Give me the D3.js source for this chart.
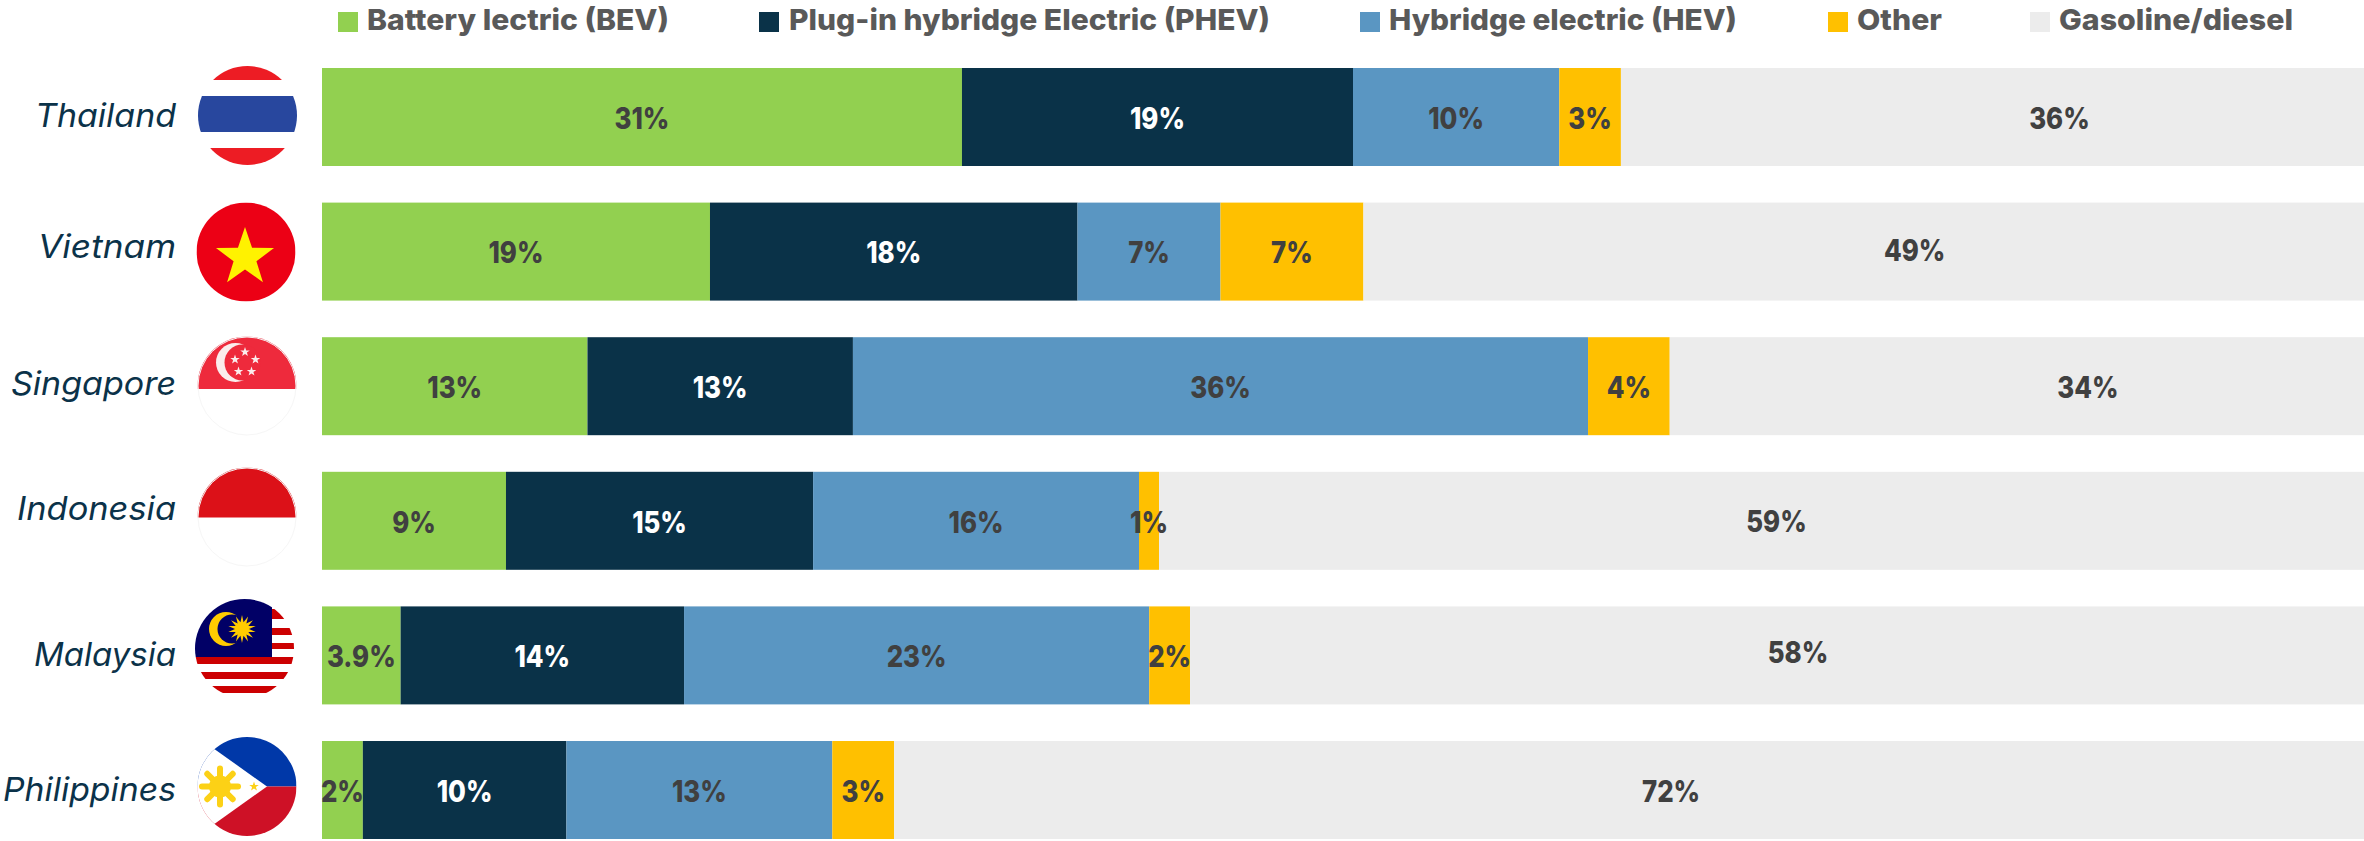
<!DOCTYPE html>
<html><head><meta charset="utf-8">
<script src="https://cdnjs.cloudflare.com/ajax/libs/d3/7.8.5/d3.min.js"></script>
<style>html,body{margin:0;padding:0;background:#fff}svg{display:block}</style>
</head><body><svg id="c" width="2364" height="841"></svg>
<script>
const countries = ["Thailand","Vietnam","Singapore","Indonesia","Malaysia","Philippines"];
const seriesNames = ["Battery lectric (BEV)","Plug-in hybridge Electric (PHEV)","Hybridge electric (HEV)","Other","Gasoline/diesel"];
const bev   = [31.34,19.0,13.0,9.01,3.85,2.0];
const phev  = [19.15,18.0,13.0,15.04,13.88,9.97];
const hev   = [10.1,7.0,36.0,15.96,22.78,13.02];
const other = [3.02,7.0,4.0,0.98,2.0,3.03];
const gas   = [36.39,49.0,34.0,59.01,57.49,71.98];
const bevLabels   = ["31%","19%","13%","9%","3.9%","2%"];
const phevLabels  = ["19%","18%","13%","15%","14%","10%"];
const hevLabels   = ["10%","7%","36%","16%","23%","13%"];
const otherLabels = ["3%","7%","4%","1%","2%","3%"];
const gasLabels   = ["36%","49%","34%","59%","58%","72%"];
const colors = ["#92D050","#0A3248","#5A96C2","#FFC000","#ECECEC"];
const labelColors = ["#404040","#FFFFFF","#404040","#404040","#404040"];

const FONT = "Inter, 'Noto Sans', sans-serif";
const svg = d3.select("#c");
const valueArrays = [bev,phev,hev,other,gas];
const labelArrays = [bevLabels,phevLabels,hevLabels,otherLabels,gasLabels];
const table = countries.map((c,i)=>{const o={country:c};seriesNames.forEach((s,k)=>o[s]=valueArrays[k][i]);return o;});
const stacked = d3.stack().keys(seriesNames)(table);
const x = d3.scaleLinear().domain([0,100]).range([322,2364]);
const y = d3.scaleBand().domain(countries).range([68,839]).paddingInner(0.272).paddingOuter(0);

// bars
stacked.forEach((layer,k)=>{
  const g = svg.append("g");
  g.selectAll("rect").data(layer).join("rect")
    .attr("x",d=>x(d[0])).attr("width",d=>x(d[1])-x(d[0]))
    .attr("y",d=>y(d.data.country)).attr("height",y.bandwidth())
    .attr("fill",colors[k]);
});
// the gasoline labels sit away from their segment centres in the reference
const gasLabelShiftX = [67,51,71,15,21,42];
const gasLabelShiftY = [0,-2,0,-1,-4,0];
stacked.forEach((layer,k)=>{
  svg.append("g").selectAll("text").data(layer).join("text")
    .attr("x",(d,i)=>(x(d[0])+x(d[1]))/2+(k===4?gasLabelShiftX[i]:0))
    .attr("y",(d,i)=>y(d.data.country)+y.bandwidth()/2+1+(k===4?gasLabelShiftY[i]:0))
    .attr("dy","0.36em").attr("text-anchor","middle")
    .attr("font-family",FONT).attr("font-weight",800).attr("font-size",30)
    .attr("fill",labelColors[k])
    .text((d,i)=>labelArrays[k][i])
    .each(function(){
      d3.select(this).attr("textLength",this.getComputedTextLength()*0.86).attr("lengthAdjust","spacingAndGlyphs");
    });
});

// country labels
const labelBaselineOffset = [10,6,9,-1,11,11];
svg.append("g").selectAll("text").data(countries).join("text")
  .attr("x",176).attr("y",(d,i)=>y(d)+y.bandwidth()/2+labelBaselineOffset[i])
  .attr("text-anchor","end").attr("font-family",FONT).attr("font-style","italic")
  .attr("font-weight",400).attr("font-size",33).attr("fill","#0B3249")
  .attr("textLength",(d,i)=>[141,138,165,159,142,173][i]).attr("lengthAdjust","spacingAndGlyphs")
  .text(d=>d);

// legend
const legendSwatchX = [338,759,1360,1828,2030];
const legendTextX = [367,789,1389,1857,2059];
const legendTextW = [302,481,348,85,234];
const lg = svg.append("g");
seriesNames.forEach((s,k)=>{
  lg.append("rect").attr("x",legendSwatchX[k]).attr("y",12).attr("width",20).attr("height",20).attr("fill",colors[k]);
  lg.append("text").attr("x",legendTextX[k]).attr("y",30)
    .attr("font-family",FONT).attr("font-weight",800).attr("font-size",29).attr("fill","#595959")
    .attr("textLength",legendTextW[k]).attr("lengthAdjust","spacingAndGlyphs").text(s);
});

// flags
const defs = svg.append("defs");
const star = (cx,cy,R,r,n,rot=-Math.PI/2)=>d3.range(n*2).map(i=>{
  const a=rot+i*Math.PI/n, q=i%2?r:R; return [cx+q*Math.cos(a),cy+q*Math.sin(a)];}).join(" ");
function flag(id,cx,cy,r){
  defs.append("clipPath").attr("id",id).append("circle").attr("cx",cx).attr("cy",cy).attr("r",r);
  const g = svg.append("g").attr("clip-path",`url(#${id})`);
  g.append("rect").attr("x",cx-r).attr("y",cy-r).attr("width",2*r).attr("height",2*r).attr("fill","#fff");
  g.band=(y0,y1,c,x0=cx-r,x1=cx+r)=>g.append("rect").attr("x",x0).attr("y",y0).attr("width",x1-x0).attr("height",y1-y0).attr("fill",c);
  return g;
}
function rim(cx,cy,r){svg.append("circle").attr("cx",cx).attr("cy",cy).attr("r",r-0.5).attr("fill","none").attr("stroke","#F6F6F6").attr("stroke-width",1);}
// Thailand
(()=>{const cx=247.5,cy=115.5,r=49.5,g=flag("th",cx,cy,r);
  g.band(cy-r,80,"#ED1C24");g.band(96,132,"#28479E");g.band(148,cy+r,"#ED1C24");})();
// Vietnam
(()=>{const cx=246,cy=252,r=49.5,g=flag("vn",cx,cy,r);
  g.band(cy-r,cy+r,"#EC0015");
  g.append("polygon").attr("points",star(245,257.5,30.5,12,5)).attr("fill","#FFF200");})();
// Singapore
(()=>{const cx=247,cy=386,r=49.5;const g=flag("sg",cx,cy,r);rim(cx,cy,r);
  g.band(cy-r,389,"#EE2A3C");
  g.append("circle").attr("cx",235.5).attr("cy",362.5).attr("r",19.5).attr("fill","#FBECEC");
  g.append("circle").attr("cx",242.5).attr("cy",362.5).attr("r",18).attr("fill","#EE2A3C");
  [[245,352],[235,359.5],[255.5,359.5],[238.5,371.5],[251.5,371.5]].forEach(p=>
    g.append("polygon").attr("points",star(p[0],p[1],5,2,5)).attr("fill","#FBECEC"));})();
// Indonesia
(()=>{const cx=247,cy=517,r=49.5;const g=flag("id",cx,cy,r);rim(cx,cy,r);
  g.band(cy-r,517.5,"#DC1118");})();
// Malaysia
(()=>{const cx=244.5,cy=648.5,r=49.5,g=flag("my",cx,cy,r);
  const red="#CC0001";
  [[609,619],[628,635],[643,649]].forEach(b=>g.band(b[0],b[1],red,272));
  [[657,664],[672,679],[686,693]].forEach(b=>g.band(b[0],b[1],red));
  g.band(cy-r,657,"#010066",cx-r,272);
  g.append("circle").attr("cx",226).attr("cy",629).attr("r",17).attr("fill","#FFCC00");
  g.append("circle").attr("cx",232).attr("cy",629).attr("r",14.5).attr("fill","#010066");
  g.append("polygon").attr("points",star(242,629,14,7,14)).attr("fill","#FFCC00");})();
// Philippines
(()=>{const cx=247,cy=786.5,r=49.5,g=flag("ph",cx,cy,r);
  g.band(cy-r,cy,"#0038A8");g.band(cy,cy+r,"#CE1126");
  g.append("polygon").attr("points",`267,${cy} 187,${cy-57} 187,${cy+57}`).attr("fill","#fff");
  const sx=220;
  d3.range(8).forEach(i=>{const a=i*Math.PI/4;
    g.append("line").attr("x1",sx).attr("y1",cy).attr("x2",sx+18*Math.cos(a)).attr("y2",cy+18*Math.sin(a))
     .attr("stroke","#FCD116").attr("stroke-width",6).attr("stroke-linecap","round");});
  g.append("circle").attr("cx",sx).attr("cy",cy).attr("r",11).attr("fill","#FCD116");
  g.append("polygon").attr("points",star(254,cy,5,2,5)).attr("fill","#FCD116");})();
</script></body></html>
